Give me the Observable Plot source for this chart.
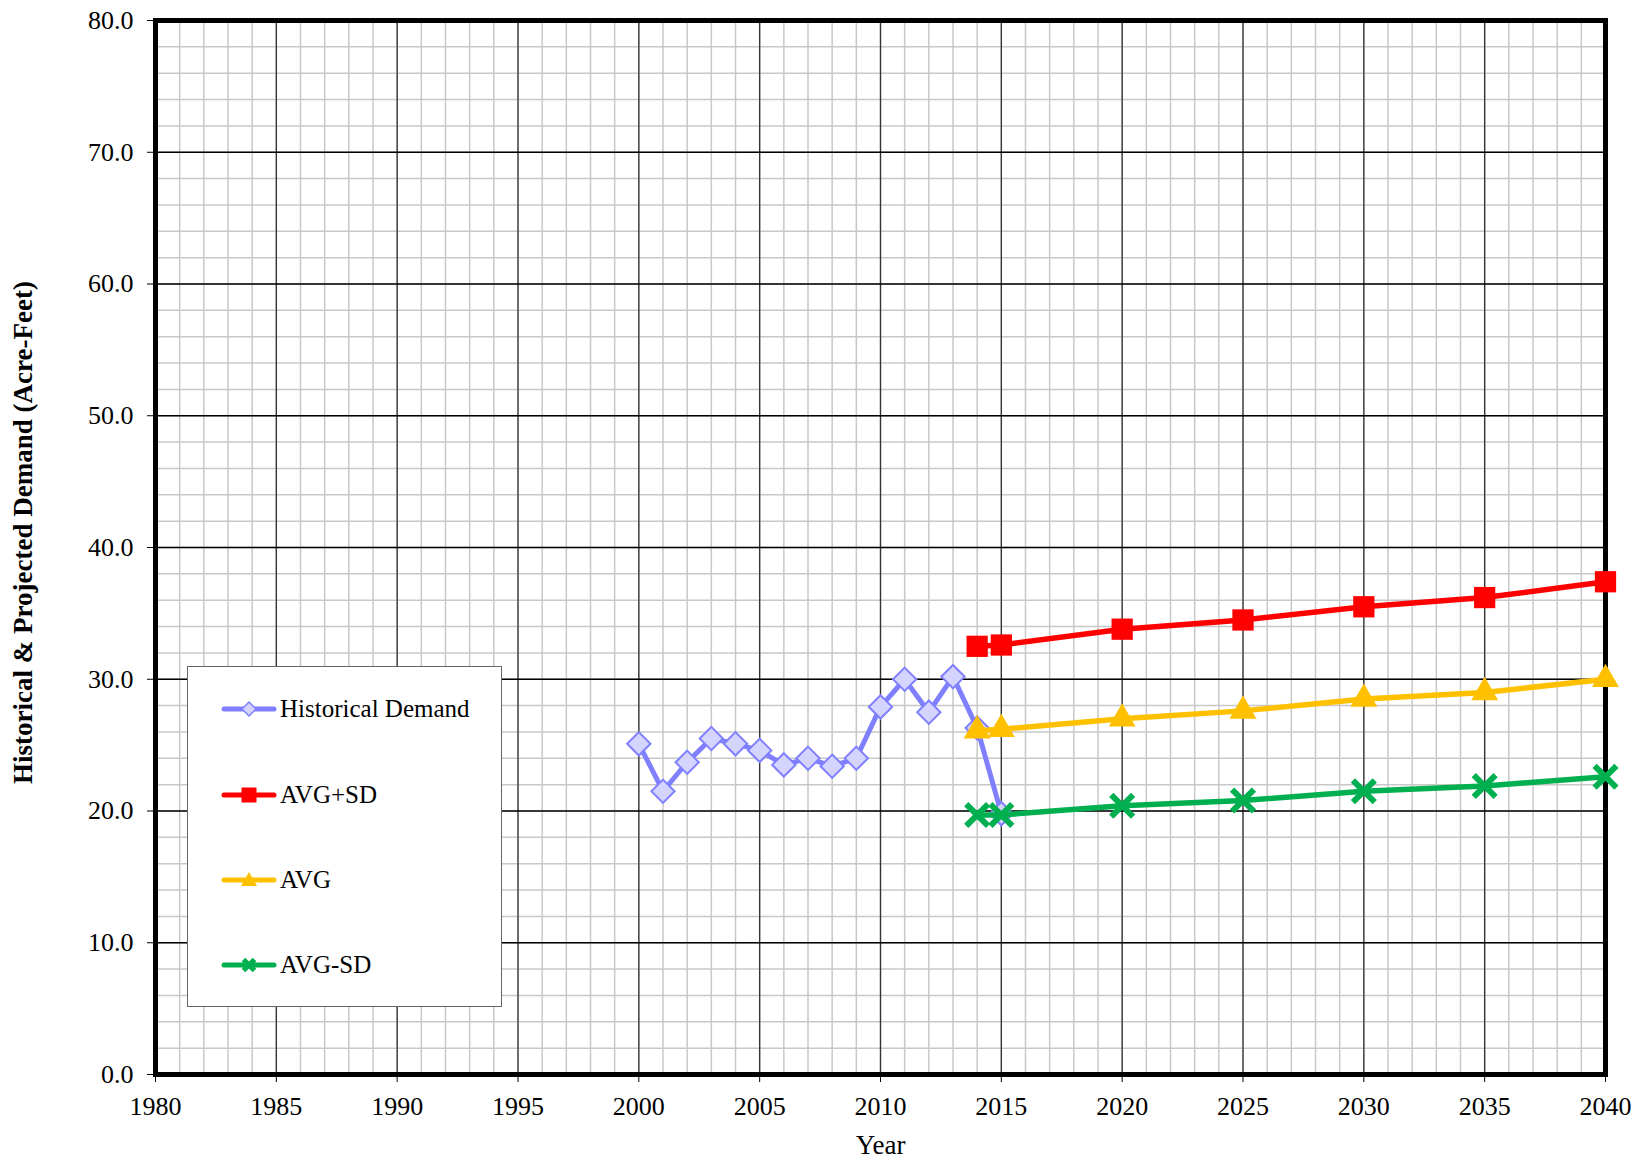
<!DOCTYPE html>
<html>
<head>
<meta charset="utf-8">
<script src="https://cdn.jsdelivr.net/npm/d3@7"></script>
<script src="https://cdn.jsdelivr.net/npm/@observablehq/plot@0.6"></script>
<style>
  html, body { margin: 0; padding: 0; background: white; }
  #wrap { position: relative; width: 1636px; height: 1161px; font-family: "Liberation Serif", "Times New Roman", serif; }
  #legend { position: absolute; left: 187px; top: 666px; width: 315px; height: 341px; background: white; border: 1.5px solid #666; box-sizing: border-box; }
  .entry { position: absolute; left: 0; height: 40px; display: flex; align-items: center; }
  .entry svg { margin-left: 33px; }
  .entry span { font-size: 25px; color: black; margin-left: 3px; white-space: nowrap; }
</style>
</head>
<body>
<div id="wrap"><div id="chart"></div><div id="legend"></div></div>
<script>
// ---- Data ----
const histYears = [2000, 2001, 2002, 2003, 2004, 2005, 2006, 2007, 2008, 2009, 2010, 2011, 2012, 2013, 2014, 2015];
const historical = [25.1, 21.5, 23.7, 25.5, 25.1, 24.6, 23.5, 24.0, 23.4, 24.0, 27.9, 30.0, 27.5, 30.2, 26.3, 19.8];
const projYears = [2014, 2015, 2020, 2025, 2030, 2035, 2040];
const avgPlusSd = [32.5, 32.6, 33.8, 34.5, 35.5, 36.2, 37.4];
const avg = [26.1, 26.2, 27.0, 27.6, 28.5, 29.0, 30.0];
const avgMinusSd = [19.7, 19.7, 20.4, 20.8, 21.5, 21.9, 22.6];
const xTicks = [1980, 1985, 1990, 1995, 2000, 2005, 2010, 2015, 2020, 2025, 2030, 2035, 2040];
const yTicks = [0, 10, 20, 30, 40, 50, 60, 70, 80];
const seriesNames = ["Historical Demand", "AVG+SD", "AVG", "AVG-SD"];
const xTitle = "Year";
const yTitle = "Historical & Projected Demand (Acre-Feet)";

const minorX = d3.range(1980, 2041, 1);
const minorY = d3.range(0, 81, 2);

const hist = histYears.map((x, i) => ({x, y: historical[i]}));
const proj = (vals) => projYears.map((x, i) => ({x, y: vals[i]}));
const plus = proj(avgPlusSd), mid = proj(avg), minus = proj(avgMinusSd);

const colors = {hist: "#8080ff", histFill: "#d4d4ff", plus: "#ff0000", avg: "#ffc000", minus: "#00b050"};
const font = "'Liberation Serif', 'Times New Roman', serif";

const chart = Plot.plot({
  width: 1636,
  height: 1161,
  marginLeft: 155,
  marginRight: 31,
  marginTop: 20,
  marginBottom: 87,
  style: {fontFamily: font, fontSize: "26px", color: "black", background: "white"},
  x: {domain: [1980, 2040]},
  y: {domain: [0, 80]},
  marks: [
    Plot.gridX(minorX, {stroke: "#c8c8c8", strokeOpacity: 1, strokeWidth: 1.5}),
    Plot.gridY(minorY, {stroke: "#c8c8c8", strokeOpacity: 1, strokeWidth: 1.5}),
    Plot.gridX(xTicks, {stroke: "#333", strokeOpacity: 1, strokeWidth: 1.3}),
    Plot.gridY(yTicks, {stroke: "#000", strokeOpacity: 1, strokeWidth: 1.3}),
    Plot.frame({stroke: "black", strokeWidth: 5}),
    Plot.axisX(xTicks, {tickSize: 8, tickPadding: 14, tickFormat: d => String(d), label: null, fontSize: 26}),
    Plot.axisY(yTicks, {tickSize: 8, tickPadding: 14, tickFormat: d => d.toFixed(1), label: null, fontSize: 26}),
    Plot.line(hist, {x: "x", y: "y", stroke: colors.hist, strokeWidth: 5, strokeLinejoin: "round"}),
    Plot.dot(hist, {x: "x", y: "y", symbol: "diamond2", r: 10.5, fill: colors.histFill, stroke: colors.hist, strokeWidth: 2}),
    Plot.line(plus, {x: "x", y: "y", stroke: colors.plus, strokeWidth: 5.5, strokeLinejoin: "round"}),
    Plot.dot(plus, {x: "x", y: "y", symbol: "square", r: 12, fill: colors.plus}),
    Plot.line(mid, {x: "x", y: "y", stroke: colors.avg, strokeWidth: 5.5, strokeLinejoin: "round"}),
    Plot.dot(mid, {x: "x", y: "y", symbol: "triangle", r: 10, fill: colors.avg}),
    Plot.line(minus, {x: "x", y: "y", stroke: colors.minus, strokeWidth: 5.5, strokeLinejoin: "round"}),
    Plot.dot(minus, {x: "x", y: "y", symbol: "times", r: 10, stroke: colors.minus, strokeWidth: 6}),
    Plot.text([xTitle], {text: d => d, frameAnchor: "bottom", lineAnchor: "middle", dy: 71, fontSize: 27}),
    Plot.text([yTitle], {text: d => d, frameAnchor: "left", textAnchor: "middle", rotate: -90, dx: -132, dy: -15, fontSize: 27, fontWeight: "bold"})
  ]
});
document.getElementById("chart").appendChild(chart);

// ---- Legend ----
const legend = document.getElementById("legend");
const swatch = {
  "Historical Demand": `<line x1="3" y1="20" x2="53" y2="20" stroke="${colors.hist}" stroke-width="5" stroke-linecap="round"/><path d="M28,13L35,20L28,27L21,20Z" fill="${colors.histFill}" stroke="${colors.hist}" stroke-width="1.5"/>`,
  "AVG+SD": `<line x1="3" y1="20" x2="53" y2="20" stroke="${colors.plus}" stroke-width="5" stroke-linecap="round"/><rect x="20.5" y="12.5" width="15" height="15" fill="${colors.plus}"/>`,
  "AVG": `<line x1="3" y1="20" x2="53" y2="20" stroke="${colors.avg}" stroke-width="5" stroke-linecap="round"/><path d="M28,12L36,26L20,26Z" fill="${colors.avg}"/>`,
  "AVG-SD": `<line x1="3" y1="20" x2="53" y2="20" stroke="${colors.minus}" stroke-width="5" stroke-linecap="round"/><path d="M22.5,14.5L33.5,25.5M33.5,14.5L22.5,25.5" stroke="${colors.minus}" stroke-width="5"/>`
};
const centers = [42, 128, 213, 298];
seriesNames.forEach((name, i) => {
  const div = document.createElement("div");
  div.className = "entry";
  div.style.top = (centers[i] - 20) + "px";
  div.innerHTML = `<svg width="56" height="40">${swatch[name]}</svg><span>${name}</span>`;
  legend.appendChild(div);
});
</script>
</body>
</html>
